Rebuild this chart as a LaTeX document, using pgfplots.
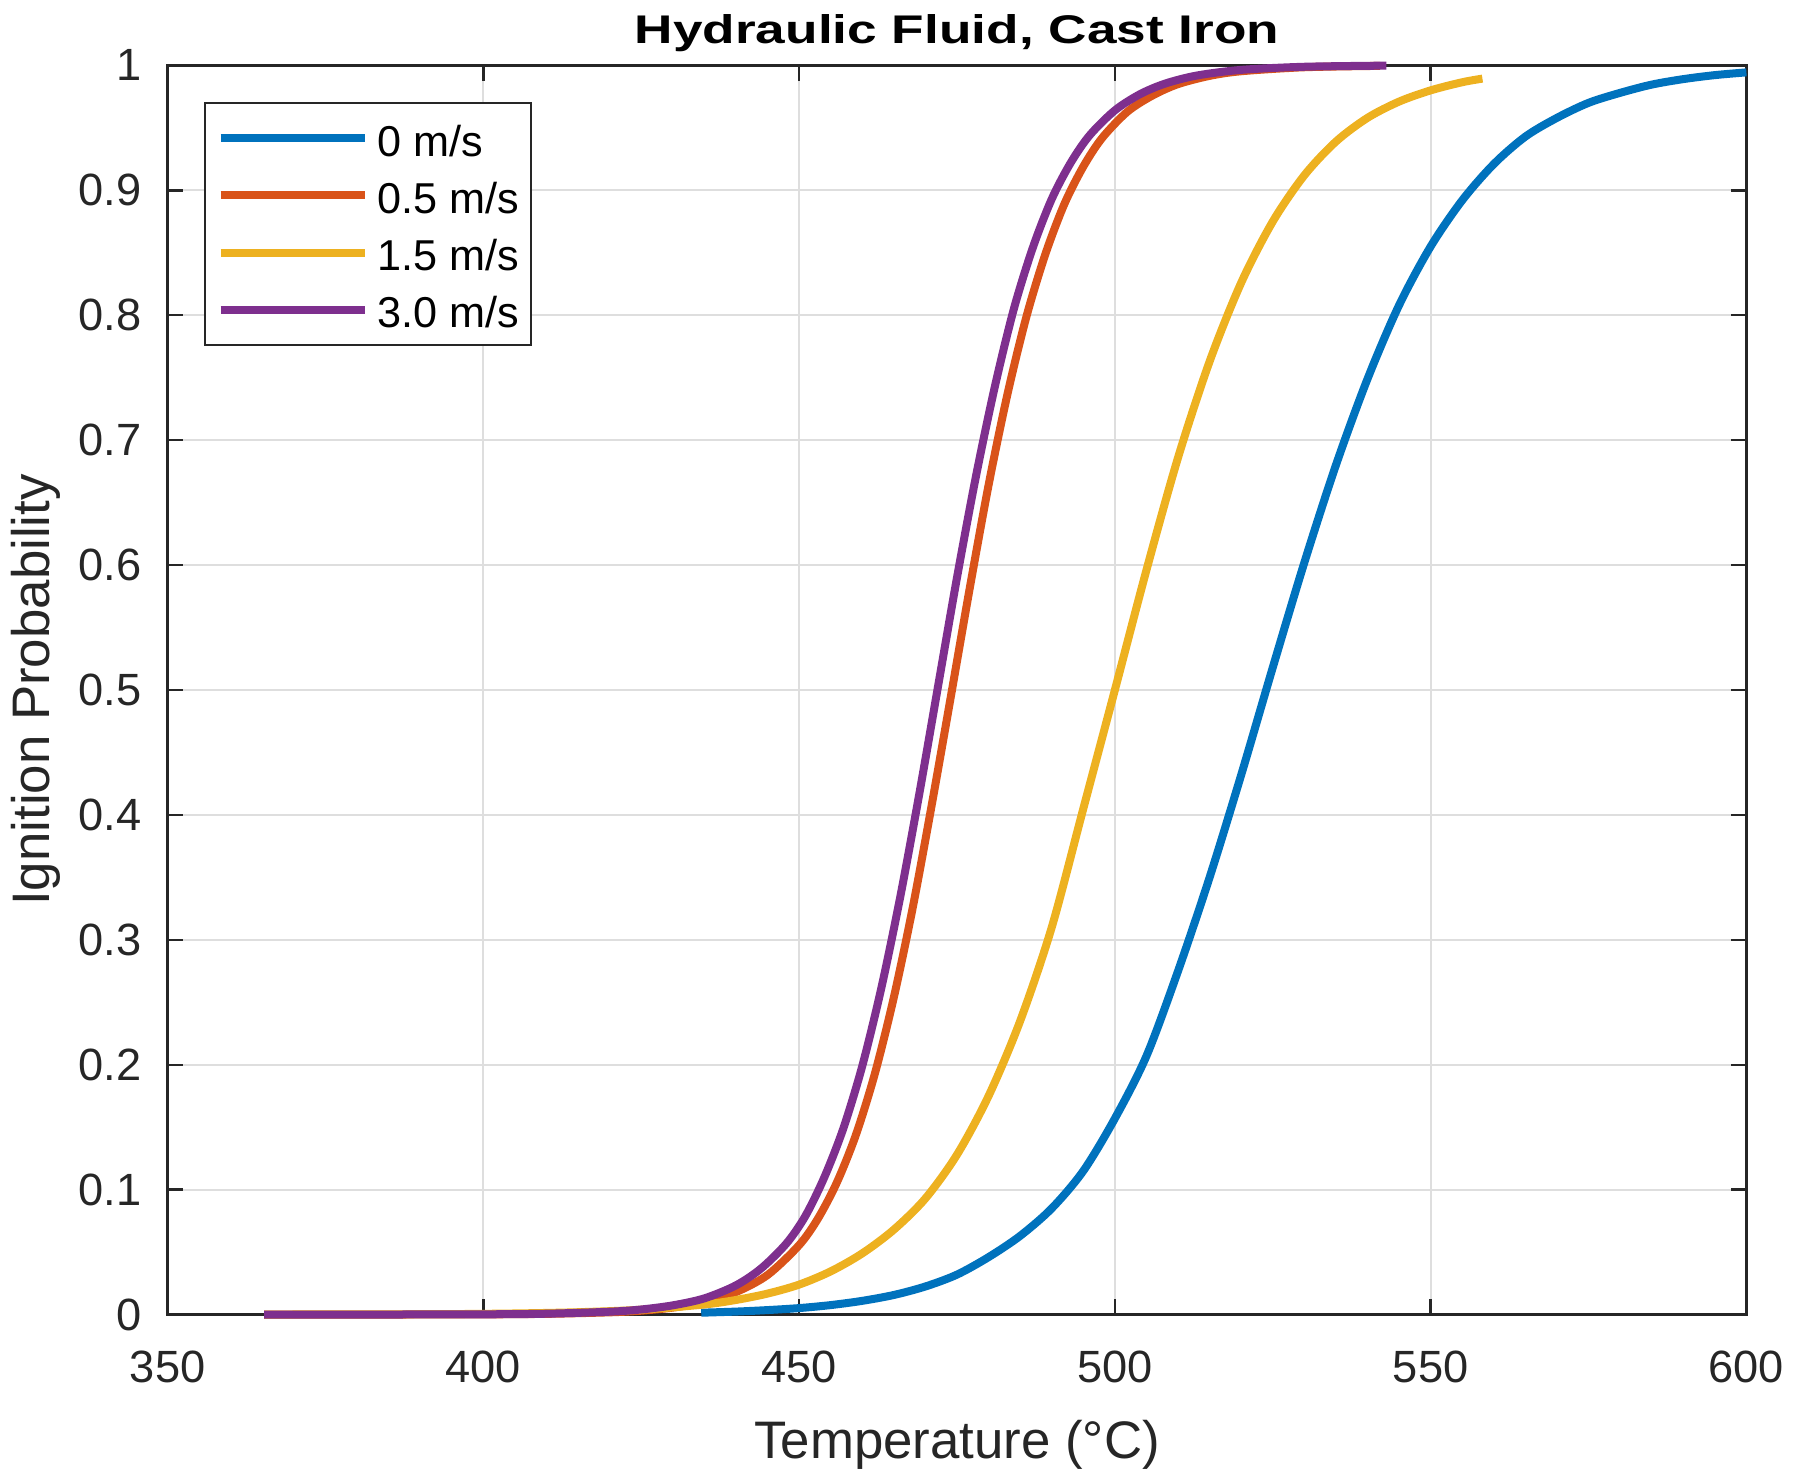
\documentclass[border=0pt]{standalone}
\usepackage{fontspec}
\setmainfont{Liberation Sans}
\usepackage{graphicx}
\usepackage{pgfplots}
\pgfplotsset{compat=1.18}
\definecolor{mblue}{rgb}{0,0.447,0.741}
\definecolor{morange}{rgb}{0.85,0.325,0.098}
\definecolor{myellow}{rgb}{0.929,0.694,0.125}
\definecolor{mpurple}{rgb}{0.494,0.184,0.556}
\definecolor{axcol}{rgb}{0.15,0.15,0.15}
\definecolor{gridcol}{rgb}{0.87,0.87,0.87}
\begin{document}
\begin{tikzpicture}
\begin{axis}[
  name=ax,
  scale only axis,
  width=394.7pt, height=312.3pt,
  xmin=350, xmax=600, ymin=0, ymax=1,
  clip=false,
  no markers,
  xtick={350,400,450,500,550,600},
  xticklabels={350,400,450,500,550,600},
  ytick={0,0.1,0.2,0.3,0.4,0.5,0.6,0.7,0.8,0.9,1},
  yticklabels={0,0.1,0.2,0.3,0.4,0.5,0.6,0.7,0.8,0.9,1},
  grid=major,
  major grid style={gridcol, line width=0.5pt},
  axis line style={axcol, line width=0.6pt},
  tick style={axcol, line width=0.6pt},
  major tick length=3.9pt,
  tick align=inside,
  ticklabel style={font=\fontsize{11.3}{13}\selectfont, text=axcol},
  yticklabel style={anchor=east, inner sep=0pt, xshift=-6.3pt},
  xticklabel style={anchor=north, inner sep=0pt, yshift=-8.9pt},
  xlabel={Temperature (°C)},
  ylabel={Ignition Probability},
  xlabel style={at={(axis description cs:0.5,-0.1149)}, anchor=base, inner sep=0pt, font=\fontsize{13.2}{15}\selectfont, text=axcol},
  ylabel style={at={(axis description cs:-0.0745,0.5)}, anchor=base, inner sep=0pt, font=\fontsize{13.2}{15}\selectfont, text=axcol},
  legend style={at={(axis description cs:0.0237,0.9697)}, anchor=north west, draw=axcol, line width=0.5pt, fill=white,
    inner xsep=2.9pt, inner ysep=4.25pt, outer sep=0pt, row sep=5.3pt, column sep=0pt,
    font=\fontsize{10.8}{13}\selectfont,
    nodes={inner sep=0pt, text height=9pt, text depth=0pt, anchor=west, text=black}},
  legend cell align=left,
  legend image code/.code={\path[draw=none, fill=none] (0pt,-1pt) rectangle (39.2pt,1pt); \draw[#1, line width=2pt] (0pt,0pt) -- (36pt,0pt);},
]
\addplot[mblue, line width=2pt, smooth] coordinates {
(434.5,0.0015) (440,0.0024) (445,0.0036) (450,0.0052) (455,0.0076) (460,0.011)
(465,0.0157) (470,0.0225) (475,0.032) (480,0.046) (485,0.063) (490,0.085)
(495,0.115) (500,0.157) (505,0.207) (510,0.275) (515,0.350) (520,0.432)
(525,0.518) (530,0.602) (535,0.680) (540,0.749) (545,0.808) (550,0.855)
(555,0.892) (560,0.921) (565,0.943) (570,0.958) (575,0.970) (580,0.978)
(585,0.9846) (590,0.989) (595,0.9922) (600,0.9944)
};
\addlegendentry{0 m/s}
\addplot[morange, line width=2pt, smooth] coordinates {
(365.3,0.00001) (380,0.00002) (400,0.0002) (410,0.0006) (420,0.0018) (425,0.0031)
(430,0.0056) (435,0.010) (440,0.018) (445,0.0317) (450,0.0556) (453,0.077)
(456,0.106) (459,0.144) (462,0.193) (465,0.254) (468,0.326) (471,0.408)
(474,0.494) (477,0.581) (480,0.664) (483,0.737) (486,0.799) (489,0.849)
(492,0.889) (495,0.919) (498,0.942) (502,0.963) (506,0.976) (510,0.985)
(515,0.9916) (520,0.9953) (530,0.9985) (542,0.9996)
};
\addlegendentry{0.5 m/s}
\addplot[myellow, line width=2pt, smooth] coordinates {
(365.3,0.00005) (380,0.00014) (395,0.0004) (405,0.0009) (415,0.0019) (425,0.0039)
(435,0.0081) (440,0.0117) (445,0.0168) (450,0.024) (455,0.0346) (460,0.049)
(465,0.068) (470,0.093) (475,0.128) (480,0.175) (485,0.235) (490,0.31)
(495,0.405) (500,0.5) (505,0.596) (510,0.686) (515,0.763) (520,0.826)
(525,0.875) (530,0.912) (535,0.939) (540,0.958) (545,0.971) (550,0.980)
(555,0.9865) (558.2,0.9894)
};
\addlegendentry{1.5 m/s}
\addplot[mpurple, line width=2pt, smooth] coordinates {
(365.3,0.00001) (380,0.00002) (400,0.00022) (410,0.0007) (420,0.0023) (425,0.0041)
(430,0.0074) (435,0.013) (440,0.0234) (444,0.037) (448,0.057) (451,0.079)
(454,0.110) (457,0.149) (460,0.199) (463,0.261) (466,0.334) (469,0.416)
(472,0.503) (475,0.590) (478,0.671) (481,0.743) (484,0.805) (487,0.854)
(490,0.893) (493,0.922) (496,0.944) (500,0.964) (504,0.977) (508,0.9855)
(513,0.9919) (520,0.9964) (530,0.9989) (543,0.9998)
};
\addlegendentry{3.0 m/s}
\end{axis}
\node[anchor=base, inner sep=0pt, font=\fontsize{10}{12}\selectfont\bfseries, text=black] at ([yshift=5.5pt]ax.north) {\scalebox{1.33}[1]{Hydraulic Fluid, Cast Iron}};
\pgfresetboundingbox
\path ([shift={(-41.9pt,-40.1pt)}]ax.south west) rectangle ([shift={(13.4pt,16.35pt)}]ax.north east);
\end{tikzpicture}
\end{document}
